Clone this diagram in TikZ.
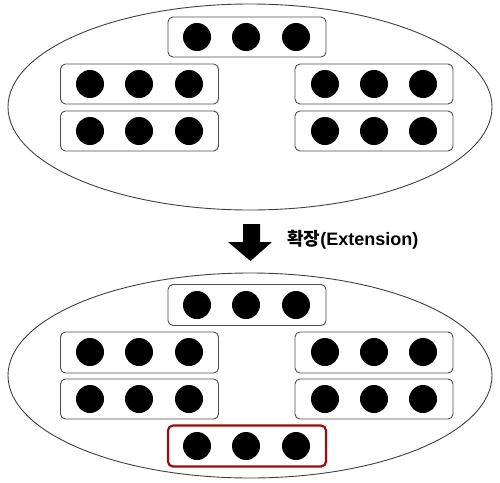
\documentclass[tikz,border=0pt]{standalone}
\usepackage{fontspec}
\setmainfont{Liberation Sans}
\newfontfamily\krfont{Noto Sans CJK KR}
\usetikzlibrary{shapes.geometric}
\definecolor{darkred}{HTML}{9E0B0B}
\begin{document}
\begin{tikzpicture}[x=1pt,y=-1pt,
  ell/.style={draw=black!75,line width=0.9pt,ellipse,inner sep=0pt},
  grp/.style={draw=black!70,line width=0.9pt,rounded corners=5pt,inner sep=0pt,minimum width=158pt,minimum height=40pt},
  redgrp/.style={grp,draw=darkred,line width=2.2pt,minimum height=41pt},
  dot/.style={circle,fill=black,inner sep=0pt,minimum size=28pt}]
\useasboundingbox (0,0) rectangle (500,482);
% top ellipse
\node[ell,minimum width=484pt,minimum height=206pt] (E1) at (250,107) {};
\node[grp] (t0) at (247,37) {};
\node[grp] (t1) at (139.5,84) {};
\node[grp] (t2) at (139.5,131) {};
\node[grp] (t3) at (374,84) {};
\node[grp] (t4) at (374,131) {};
\foreach \y/\n in {37/a} {\foreach \x/\k in {197/1,246/2,296/3} {\node[dot] (ta\k) at (\x,\y) {};}}
\foreach \y/\n in {84/b,131/c} {
  \foreach \x/\k in {90/1,139/2,189/3} {\node[dot] (tl\n\k) at (\x,\y) {};}
  \foreach \x/\k in {325/1,374/2,423/3} {\node[dot] (tr\n\k) at (\x,\y) {};}
}
% arrow
\fill[black] (243,224) -- (260,224) -- (260,242) -- (272,242) -- (250.5,261) -- (228,242) -- (243,242) -- cycle;
\node[anchor=base west,inner sep=0pt,font=\bfseries\fontsize{18}{20}\selectfont] (lab) at (287,245) {{\krfont\bfseries 확장}(Extension)};
% bottom ellipse
\node[ell,minimum width=484pt,minimum height=205pt] (E2) at (250,375.5) {};
\node[grp,minimum height=41pt] (b0) at (247,305) {};
\node[grp,minimum height=41pt] (b1) at (139.5,352.5) {};
\node[grp] (b2) at (139.5,399) {};
\node[grp,minimum height=41pt] (b3) at (374,352.5) {};
\node[grp] (b4) at (374,399) {};
\node[redgrp] (b5) at (247,446) {};
\foreach \y/\n in {305/a,446/r} {\foreach \x/\k in {197/1,246/2,296/3} {\node[dot] (b\n\k) at (\x,\y) {};}}
\foreach \y/\n in {352/b,399/c} {
  \foreach \x/\k in {90/1,139/2,189/3} {\node[dot] (bl\n\k) at (\x,\y) {};}
  \foreach \x/\k in {325/1,374/2,423/3} {\node[dot] (br\n\k) at (\x,\y) {};}
}
\end{tikzpicture}
\end{document}
